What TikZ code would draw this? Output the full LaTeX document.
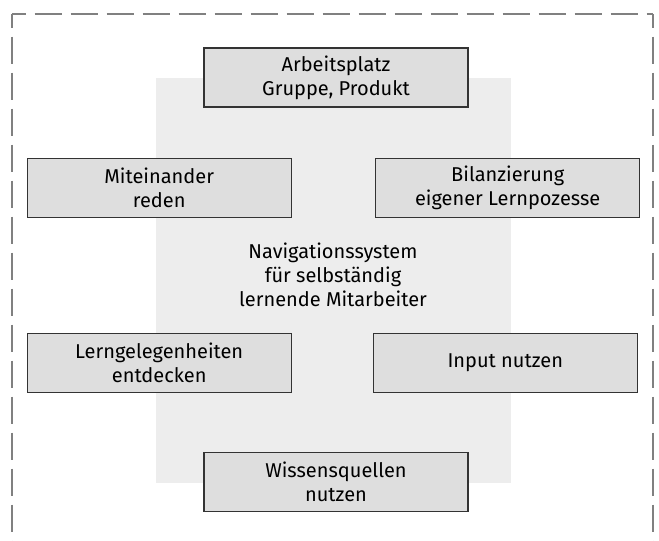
\documentclass[tikz,border=0pt]{standalone}
\usepackage{fontspec}
\setmainfont{Fira Sans}
\usepackage{tikz}
\usetikzlibrary{backgrounds,positioning}

\tikzset{
  feld/.style={draw=black!80, fill=black!13, line width=1.2pt,
    minimum width=264pt, minimum height=59pt, align=center,
    font=\fontsize{20}{24}\selectfont},
  rahmen/.style={draw=black!50, line width=2.4pt, dash pattern=on 27pt off 9pt, dash phase=13.5pt}
}

\begin{document}
\begin{tikzpicture}[x=1pt,y=-1pt]
\useasboundingbox (0,0) rectangle (659,541);
\clip (0,0) rectangle (659,541);
% gestrichelter Rahmen
\draw[rahmen] (12,14) -- (652.7,14);
\draw[rahmen] (12,14) -- (12,560);
\draw[rahmen] (652.7,14) -- (652.7,560);
% grauer Hintergrund
\fill[black!7] (156,78) rectangle (511,482.7);
\node[font=\fontsize{20}{24}\selectfont, align=center] (navi) at (333,275) {Navigationssystem\\f\"ur selbst\"andig\\lernende Mitarbeiter};
\node[feld] (arbeit) at (336,77.5) {Arbeitsplatz\\Gruppe, Produkt};
\node[feld] (reden) at (159.2,188) {Miteinander\\reden};
\node[feld] (bilanz) at (507.7,188) {Bilanzierung\\eigener Lernpozesse};
\node[feld] (lernen) at (159.2,363.2) {Lerngelegenheiten\\entdecken};
\node[feld] (input) at (505.3,363.2) {Input nutzen};
\node[feld] (wissen) at (336,482) {Wissensquellen\\nutzen};
\end{tikzpicture}
\end{document}
